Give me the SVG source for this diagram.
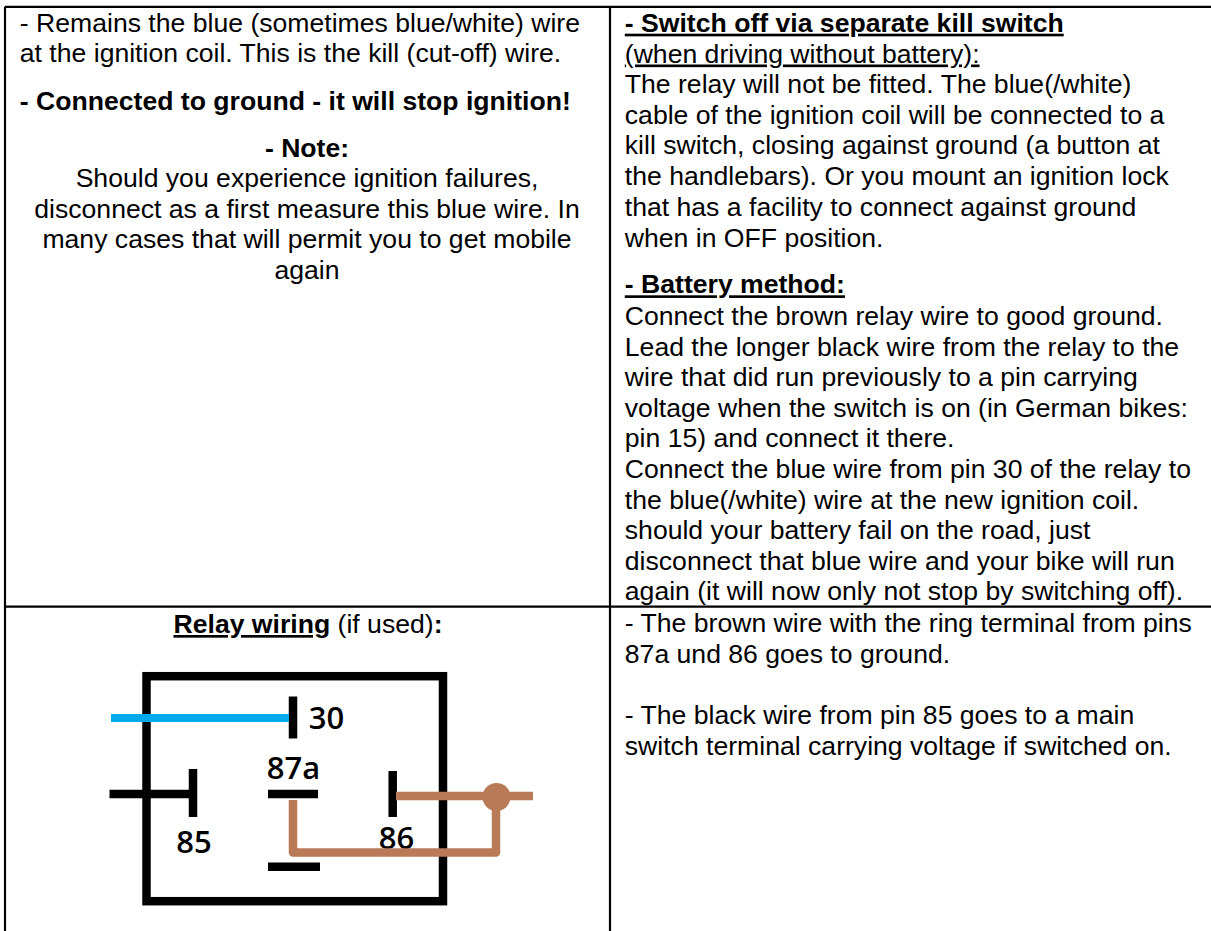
<svg xmlns="http://www.w3.org/2000/svg" width="1211" height="931" viewBox="0 0 1211 931">
<style>
text{font-family:"Liberation Sans",Arial,sans-serif;font-size:26.6px;fill:#000}
.b{font-weight:700}
.u{text-decoration:underline;text-decoration-skip-ink:none}
.c{text-anchor:middle}
.p{font-family:"Open Sans",sans-serif;font-weight:600;font-size:31px;text-anchor:middle}
.t{stroke:#000;stroke-width:2.2;fill:none}
.k{stroke:#000;stroke-width:8.5;fill:none}
.br{stroke:#b97a57;stroke-width:8.5;fill:none}
</style>
<rect width="1211" height="931" fill="#fff"/>
<g id="table">
<path class="t" d="M5 6.800H1211M5 606.700H1211M5 6.800V931M610 6.800V931"/>
</g>
<g id="cell-top-left">
<text x="19.800" y="31.700">- Remains the blue (sometimes blue/white) wire</text>
<text x="19.800" y="62.400">at the ignition coil. This is the kill (cut-off) wire.</text>
<text class="b" x="19.800" y="110">- Connected to ground - it will stop ignition!</text>
<text class="b c" x="307" y="156.700">- Note:</text>
<text class="c" x="307" y="187">Should you experience ignition failures,</text>
<text class="c" x="307" y="217.700">disconnect as a first measure this blue wire. In</text>
<text class="c" x="307" y="248.300">many cases that will permit you to get mobile</text>
<text class="c" x="307" y="278.500">again</text>
</g>
<g id="cell-top-right">
<text class="b u" x="624.800" y="31.700">- Switch off via separate kill switch</text>
<text class="u" x="624.800" y="62.500">(when driving without battery):</text>
<text x="624.800" y="93">The relay will not be fitted. The blue(/white)</text>
<text x="624.800" y="123.800">cable of the ignition coil will be connected to a</text>
<text x="624.800" y="154.300">kill switch, closing against ground (a button at</text>
<text x="624.800" y="185">the handlebars). Or you mount an ignition lock</text>
<text x="624.800" y="215.700">that has a facility to connect against ground</text>
<text x="624.800" y="246.500">when in OFF position.</text>
<text class="b u" x="624.800" y="293.300">- Battery method:</text>
<text x="624.800" y="325">Connect the brown relay wire to good ground.</text>
<text x="624.800" y="355.600">Lead the longer black wire from the relay to the</text>
<text x="624.800" y="386.200">wire that did run previously to a pin carrying</text>
<text x="624.800" y="416.800">voltage when the switch is on (in German bikes:</text>
<text x="624.800" y="447.400">pin 15) and connect it there.</text>
<text x="624.800" y="478">Connect the blue wire from pin 30 of the relay to</text>
<text x="624.800" y="508.600">the blue(/white) wire at the new ignition coil.</text>
<text x="624.800" y="539.200">should your battery fail on the road, just</text>
<text x="624.800" y="569.800">disconnect that blue wire and your bike will run</text>
<text x="624.800" y="600.400">again (it will now only not stop by switching off).</text>
</g>
<g id="cell-bottom-left">
<text class="c" x="308" y="633"><tspan class="b u">Relay wiring</tspan> (if used)<tspan class="b">:</tspan></text>
</g>
<g id="cell-bottom-right">
<text x="624.800" y="632.300">- The brown wire with the ring terminal from pins</text>
<text x="624.800" y="663">87a und 86 goes to ground.</text>
<text x="624.800" y="724.300">- The black wire from pin 85 goes to a main</text>
<text x="624.800" y="755.300">switch terminal carrying voltage if switched on.</text>
</g>
<g id="relay">
<rect class="k" x="146.500" y="676.200" width="296.500" height="225"/>
<g id="pin-30"><path class="k" d="M293 696.500V738.500"/><text class="p" x="326.500" y="728.500">30</text></g>
<g id="pin-85"><path class="k" d="M193 769V817"/><text class="p" x="194" y="852.500">85</text></g>
<g id="pin-87a"><path class="k" d="M268 794H318M268 866.700H320"/><text class="p" x="293.500" y="778.500">87a</text></g>
<g id="pin-86"><path class="k" d="M392.700 771V817"/><text class="p" x="396.500" y="848.500">86</text></g>
</g>
<g id="connectors">
<path d="M111 718H289" stroke="#00a8ec" stroke-width="8" fill="none"/>
<path class="k" d="M109.500 794H190"/>
<path class="br" d="M396 796H533"/>
<path class="br" stroke-linejoin="round" d="M293 800V852.500H496V797"/>
<circle cx="496.500" cy="797" r="14" fill="#b97a57"/>
</g>
</svg>
